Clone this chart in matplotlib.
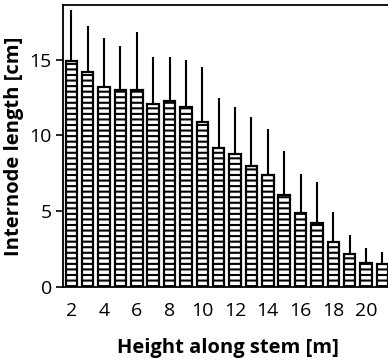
import matplotlib
matplotlib.use("Agg")
import matplotlib.pyplot as plt

heights = [2, 3, 4, 5, 6, 7, 8, 9, 10, 11, 12, 13, 14, 15, 16, 17, 18, 19, 20, 21]
means = [14.9, 14.2, 13.2, 13.0, 13.0, 12.1, 12.3, 11.9, 10.9, 9.2,
         8.8, 8.0, 7.4, 6.1, 4.85, 4.2, 2.95, 2.2, 1.6, 1.55]
sds = [3.4, 3.0, 3.25, 2.9, 3.8, 3.05, 2.9, 3.1, 3.6, 3.25,
       3.1, 3.2, 3.0, 2.9, 2.6, 2.75, 2.0, 1.25, 0.95, 0.75]
xticks = [2, 4, 6, 8, 10, 12, 14, 16, 18, 20]
yticks = [0, 5, 10, 15]

plt.rcParams['font.family'] = ['Open Sans', 'DejaVu Sans']
plt.rcParams['hatch.linewidth'] = 1.5
plt.rcParams['hatch.color'] = 'black'

W, H = 388, 361
fig = plt.figure(figsize=(W / 100, H / 100), dpi=100)
ax = fig.add_axes([63 / W, 74 / H, (393 - 63) / W, 282 / H])

ax.errorbar(heights, means, yerr=[[0] * len(sds), sds], fmt='none',
            ecolor='black', elinewidth=1.5, capsize=0, zorder=1)
ax.bar(heights, means, width=0.7, facecolor='white', edgecolor='black',
       linewidth=1.6, hatch='---', zorder=2)

ax.set_xlim(1.49, 21.65)
ax.set_ylim(0, 18.6)
ax.set_xticks(xticks)
ax.set_yticks(yticks)
ax.tick_params(axis='x', length=0, labelsize=14, pad=11)
ax.tick_params(axis='y', length=5, width=1.2, labelsize=14, pad=3)
for s in ['left', 'bottom', 'top']:
    ax.spines[s].set_linewidth(1.3)
ax.spines['right'].set_visible(False)

ax.set_xlabel('Height along stem [m]', fontsize=14.5, fontweight='bold', labelpad=13)
ax.set_ylabel('Internode length [cm]', fontsize=14.5, fontweight='bold', labelpad=4)

fig.savefig('out.png', dpi=100)
